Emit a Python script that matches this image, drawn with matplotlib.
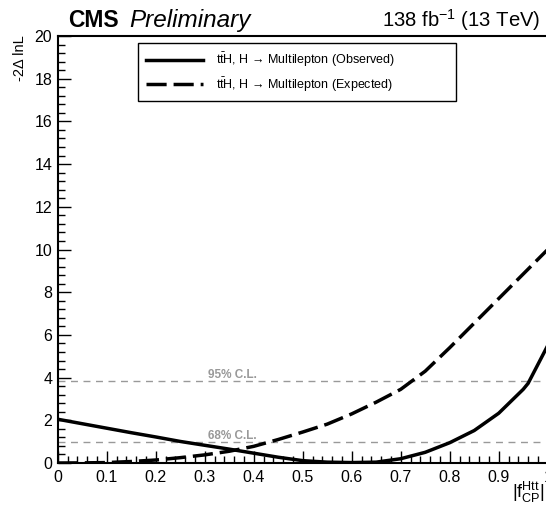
import matplotlib
matplotlib.use("Agg")
import matplotlib.pyplot as plt
from matplotlib.ticker import MultipleLocator

plt.rcParams['font.family'] = ['Liberation Sans', 'DejaVu Sans']
plt.rcParams['mathtext.fontset'] = 'custom'
plt.rcParams['mathtext.rm'] = 'Liberation Sans'
plt.rcParams['mathtext.it'] = 'Liberation Sans:italic'

# scan points
fcp = [0.0, 0.05, 0.1, 0.15, 0.2, 0.25, 0.3, 0.35, 0.4, 0.45, 0.5,
       0.55, 0.6, 0.65, 0.7, 0.75, 0.8, 0.85, 0.9, 0.95, 0.96, 1.0]
obs = [2.05, 1.84, 1.63, 1.42, 1.22, 1.01, 0.83, 0.65, 0.46, 0.27, 0.11,
       0.04, 0.02, 0.04, 0.2, 0.5, 0.95, 1.52, 2.33, 3.45, 3.73, 5.5]
exp = [0.0, 0.005, 0.02, 0.07, 0.14, 0.25, 0.38, 0.55, 0.78, 1.1, 1.45,
       1.82, 2.3, 2.85, 3.45, 4.3, 5.4, 6.55, 7.7, 8.85, 9.08, 10.0]

cl_values = [3.84, 1.0]
cl_labels = ["95% C.L.", "68% C.L."]

fig = plt.figure(figsize=(5.46, 5.08), dpi=100)
W, H = 546.0, 508.0
ax = fig.add_axes([57.7 / W, 45 / H, 490 / W, 427 / H])

ax.plot(fcp, obs, color='black', lw=2.5, solid_joinstyle='miter',
        label=r'$\mathrm{t\bar{t}H}$, H → Multilepton (Observed)')
ax.plot(fcp, exp, color='black', lw=2.5, linestyle=(0, (5.8, 2.0)),
        label=r'$\mathrm{t\bar{t}H}$, H → Multilepton (Expected)')

for v, lab in zip(cl_values, cl_labels):
    ax.axhline(v, color='#999999', lw=1.0, linestyle=(0, (5, 4)), zorder=1)
    ax.text(0.356, v, lab, color='#999999', fontsize=8.5, fontweight='bold',
            ha='center', va='bottom')

ax.set_xlim(0, 1)
ax.set_ylim(0, 20)
ax.xaxis.set_major_locator(MultipleLocator(0.1))
ax.xaxis.set_minor_locator(MultipleLocator(0.02))
ax.yaxis.set_major_locator(MultipleLocator(2))
ax.yaxis.set_minor_locator(MultipleLocator(0.4))
ax.set_xticks([0, 0.1, 0.2, 0.3, 0.4, 0.5, 0.6, 0.7, 0.8, 0.9, 1.0])
ax.set_xticklabels(['0', '0.1', '0.2', '0.3', '0.4', '0.5', '0.6', '0.7', '0.8', '0.9', '1'])
ax.tick_params(which='both', direction='in', top=False, right=False, labelsize=11.5)
ax.tick_params(which='major', length=9, width=1.0)
ax.tick_params(which='minor', length=5, width=1.0)
ax.tick_params(axis='y', pad=4)
ax.tick_params(axis='x', pad=5)
for s in ax.spines.values():
    s.set_linewidth(1.5)

leg = ax.legend(loc='upper left', bbox_to_anchor=(138 / W, 1 - 97 / H, 318 / W, 54 / H),
                bbox_transform=fig.transFigure, mode='expand', fontsize=9,
                frameon=True, fancybox=False, edgecolor='black', framealpha=1,
                handlelength=4.6, handletextpad=1.0, borderpad=0.6, labelspacing=0.5,
                borderaxespad=0)
leg.get_frame().set_linewidth(1.0)

fig.text(68 / W, 1 - 27 / H, 'CMS', fontsize=16.5, fontweight='bold', ha='left', va='baseline')
fig.text(129 / W, 1 - 27 / H, 'Preliminary', fontsize=17.5, fontstyle='italic', ha='left', va='baseline')
fig.text(540 / W, 1 - 27 / H, r'138 fb$^{-1}$ (13 TeV)', fontsize=14.6, ha='right', va='baseline')

fig.text(20 / W, 1 - 35 / H, '-2Δ lnL', fontsize=10.5, rotation=90, ha='center', va='top')
fig.text(545 / W, 1 - 498 / H, r'$|\mathrm{f}^{\mathrm{Htt}}_{\mathrm{CP}}|$', fontsize=13,
         ha='right', va='baseline')

fig.savefig('out.png', dpi=100)
